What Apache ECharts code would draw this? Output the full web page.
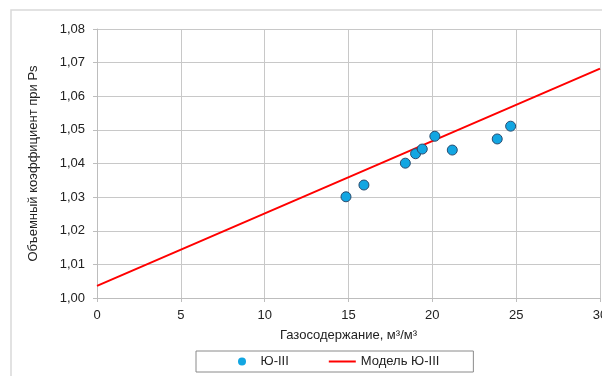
<!DOCTYPE html>
<html>
<head>
<meta charset="utf-8">
<script src="https://cdn.jsdelivr.net/npm/echarts@6/dist/echarts.min.js"></script>
<style>
    html, body { margin: 0; padding: 0; background: #fff; }
    #chart { width: 602px; height: 376px; }
</style>
</head>
<body>
<div id="chart"></div>
<script>
    // замеры Ю-III
    var gasX = [14.85, 15.92, 18.39, 19.0, 19.4, 20.15, 21.19, 23.87, 24.67];
    var coefY = [1.0301, 1.0336, 1.0401, 1.0429, 1.0443, 1.0481, 1.0440, 1.0473, 1.0511];
    // модель (прямая)
    var modelX = [0, 30];
    var modelY = [1.0036, 1.0682];

    var seriesNames = ['Ю-III', 'Модель Ю-III'];
    var font = '"Liberation Sans", Arial, sans-serif';

    var myChart = echarts.init(document.getElementById('chart'));
    var option = {
        animation: false,
        graphic: [{
            type: 'rect',
            shape: {x: 11, y: 10, width: 700, height: 500},
            style: {fill: 'none', stroke: '#d9d9d9', lineWidth: 1.5},
            silent: true
        }],
        grid: {left: 97, right: 2, top: 29, bottom: 78, outerBoundsMode: 'none'},
        legend: {
            left: 196,
            top: 351,
            padding: [4, 34, 4, 42],
            borderColor: '#8a8a8a',
            borderWidth: 1,
            itemWidth: 27,
            itemHeight: 8,
            itemGap: 40,
            textStyle: {fontFamily: font, fontSize: 13, color: '#222'},
            data: [
                {name: seriesNames[0], icon: 'circle', itemStyle: {borderWidth: 0}},
                {name: seriesNames[1], icon: 'path://M0,0L27,0L27,2L0,2Z'}
            ]
        },
        xAxis: {
            type: 'value',
            min: 0,
            max: 30,
            interval: 5,
            name: 'Газосодержание, м³/м³',
            nameLocation: 'middle',
            nameGap: 31,
            nameTextStyle: {fontFamily: font, fontSize: 13, color: '#222'},
            axisLine: {lineStyle: {color: '#bdbdbd'}},
            axisTick: {show: true, length: 4, lineStyle: {color: '#bdbdbd'}},
            axisLabel: {fontFamily: font, fontSize: 13, color: '#222', margin: 11},
            splitLine: {lineStyle: {color: '#c8c8c8'}}
        },
        yAxis: {
            type: 'value',
            min: 1.00,
            max: 1.08,
            interval: 0.01,
            name: 'Объемный коэффициент при Ps',
            nameLocation: 'middle',
            nameGap: 57,
            nameTextStyle: {fontFamily: font, fontSize: 13, color: '#222'},
            axisLine: {show: true, lineStyle: {color: '#bdbdbd'}},
            axisTick: {show: true, length: 4, lineStyle: {color: '#bdbdbd'}},
            axisLabel: {
                fontFamily: font, fontSize: 13, color: '#222', margin: 12,
                formatter: function (v) {
                    return v.toFixed(2).replace('.', ',');
                }
            },
            splitLine: {lineStyle: {color: '#c8c8c8'}}
        },
        series: [
            {
                name: seriesNames[0],
                type: 'scatter',
                symbol: 'circle',
                symbolSize: 10,
                itemStyle: {color: '#12a6e2', borderColor: '#2a4b6e', borderWidth: 1, opacity: 1},
                data: gasX.map(function (x, i) { return [x, coefY[i]]; }),
                z: 3
            },
            {
                name: seriesNames[1],
                type: 'line',
                symbol: 'none',
                lineStyle: {color: '#ff0000', width: 2},
                itemStyle: {color: '#ff0000'},
                data: modelX.map(function (x, i) { return [x, modelY[i]]; }),
                z: 2
            }
        ]
    };
    myChart.setOption(option);
</script>
</body>
</html>
